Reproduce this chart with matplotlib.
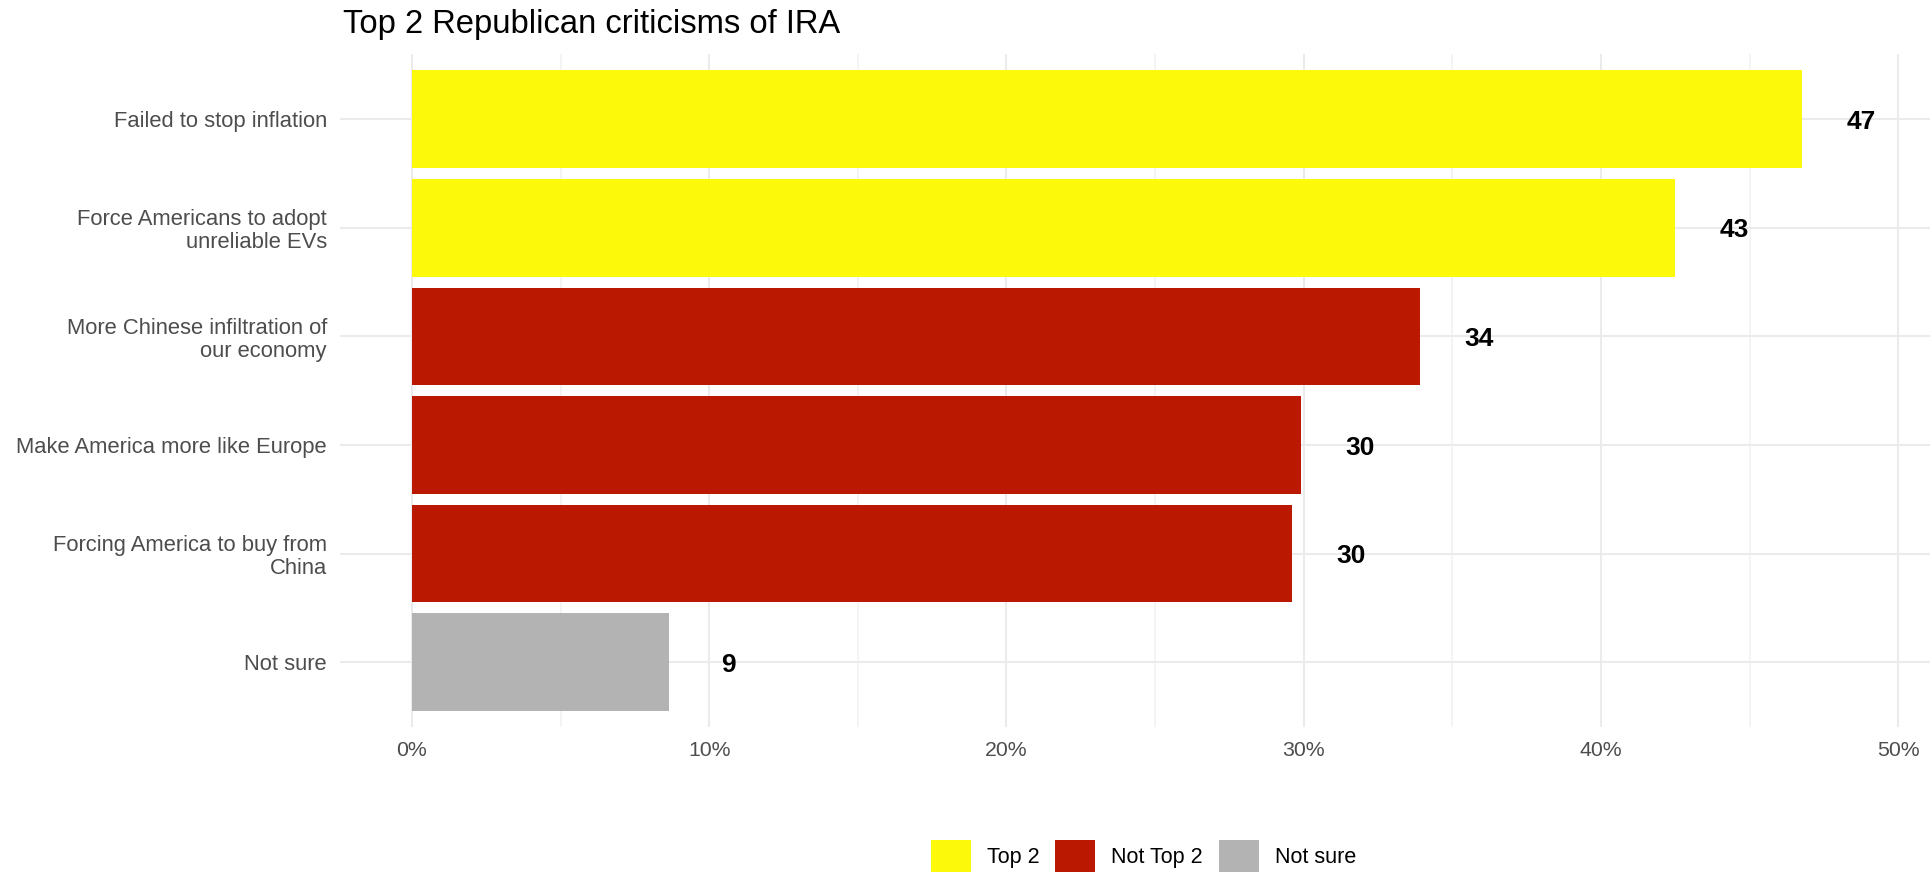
import matplotlib
matplotlib.use("Agg")
import matplotlib.pyplot as plt
from matplotlib.patches import Patch

plt.rcParams['font.family'] = ['Liberation Sans', 'DejaVu Sans']

# data
categories = ["Failed to stop inflation",
              "Force Americans to adopt\nunreliable EVs",
              "More Chinese infiltration of\nour economy",
              "Make America more like Europe",
              "Forcing America to buy from\nChina",
              "Not sure"]
values = [46.75, 42.5, 33.9, 29.9, 29.6, 8.65]
value_labels = ["47", "43", "34", "30", "30", "9"]
groups = ["Top 2", "Top 2", "Not Top 2", "Not Top 2", "Not Top 2", "Not sure"]
legend_order = ["Top 2", "Not Top 2", "Not sure"]
colors = {"Top 2": "#FCFA0A", "Not Top 2": "#BA1800", "Not sure": "#B3B3B3"}
x_ticks = [0, 10, 20, 30, 40, 50]
x_ticklabels = ["0%", "10%", "20%", "30%", "40%", "50%"]
x_minor = [5, 15, 25, 35, 45]

W, H = 1931, 872
fig = plt.figure(figsize=(W / 100, H / 100), dpi=100)
ax = fig.add_axes([340 / W, 1 - 727.4 / H, (W - 340) / W, (727.4 - 54) / H])

ypos = list(range(len(categories)))
ax.barh(ypos, values, height=0.9, color=[colors[g] for g in groups], zorder=2)
for y, v, lab in zip(ypos, values, value_labels):
    ax.text(v + 2, y, lab, ha='center', va='center_baseline', fontsize=19,
            fontweight='bold', color='black', zorder=3)

ax.set_ylim(len(categories) - 0.4, -0.6)
ax.set_xlim(-2.42, 51.1)

ax.set_yticks(ypos)
ax.set_yticklabels(categories, fontsize=15.8, color='#4D4D4D', linespacing=1.12)
ax.set_xticks(x_ticks)
ax.set_xticklabels(x_ticklabels, fontsize=15.3, color='#4D4D4D')
ax.set_xticks(x_minor, minor=True)
ax.tick_params(axis='both', which='both', length=0)
ax.tick_params(axis='y', pad=9.4)
ax.tick_params(axis='x', pad=10)

ax.grid(True, which='major', axis='both', color='#EBEBEB', linewidth=1.5, zorder=0)
ax.grid(True, which='minor', axis='x', color='#F2F2F2', linewidth=1.2, zorder=0)
ax.set_axisbelow(True)
for s in ax.spines.values():
    s.set_visible(False)

fig.text(343 / W, 1 - 33.3 / H, "Top 2 Republican criticisms of IRA",
         fontsize=23.6, color='black', ha='left', va='baseline')

handles = [Patch(facecolor=colors[g], edgecolor='none', label=g) for g in legend_order]
fs = 15.5
px = fs * 100 / 72
fig.legend(handles=handles, loc='center', bbox_to_anchor=(1143.5 / W, 1 - 856 / H),
           ncol=3, frameon=False, fontsize=fs, borderpad=0,
           handlelength=40 / px, handleheight=40 / px,
           handletextpad=16 / px, columnspacing=16 / px)

fig.savefig("out.png", dpi=100)
